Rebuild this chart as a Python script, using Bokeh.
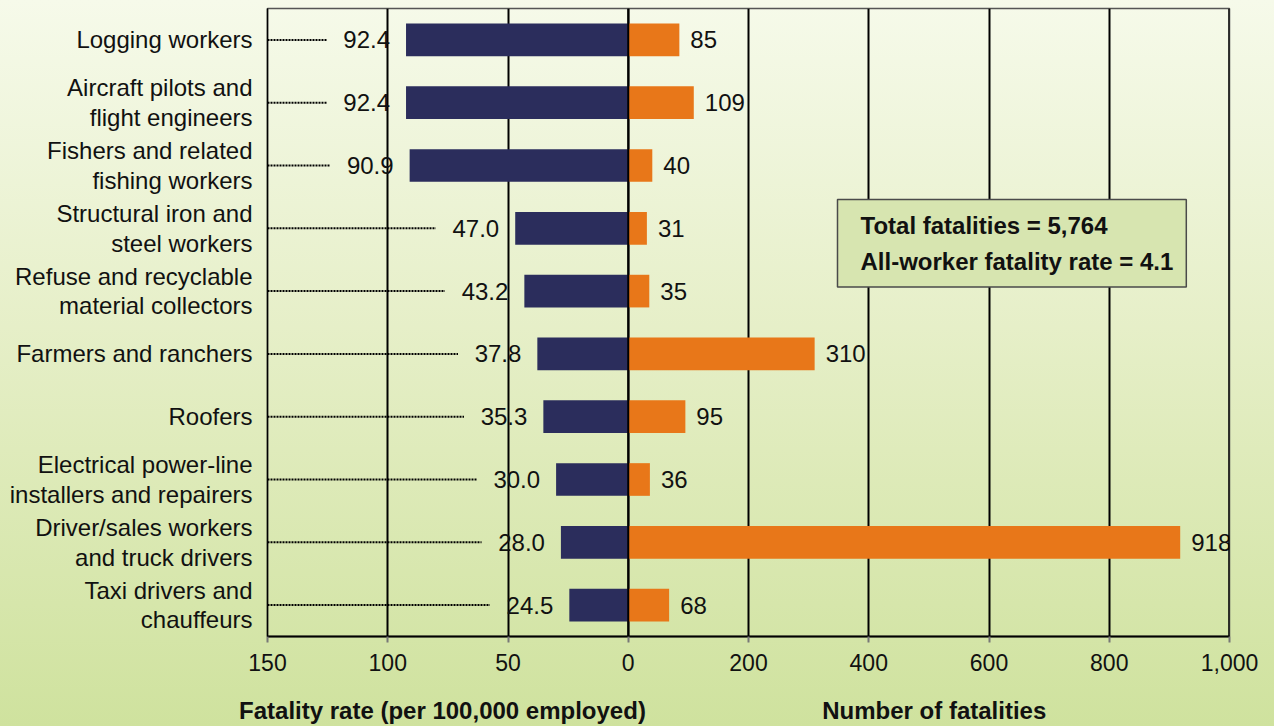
from bokeh.plotting import figure
from bokeh.layouts import column
from bokeh.models import (ColumnDataSource, FactorRange, Range1d, FixedTicker,
                          Label, Span)
from bokeh.core.properties import value
from bokeh.embed import file_html
from bokeh.resources import INLINE

categories = [
    "Logging workers",
    "Aircraft pilots and\nflight engineers",
    "Fishers and related\nfishing workers",
    "Structural iron and\nsteel workers",
    "Refuse and recyclable\nmaterial collectors",
    "Farmers and ranchers",
    "Roofers",
    "Electrical power-line\ninstallers and repairers",
    "Driver/sales workers\nand truck drivers",
    "Taxi drivers and\nchauffeurs",
]
rates = [92.4, 92.4, 90.9, 47.0, 43.2, 37.8, 35.3, 30.0, 28.0, 24.5]
fatalities = [85, 109, 40, 31, 35, 310, 95, 36, 918, 68]

count_ticks = [-600, -400, -200, 0, 200, 400, 600, 800, 1000]
count_tick_labels = ["150", "100", "50", "0", "200", "400", "600", "800", "1,000"]

title_ticks = [-309, 509]
title_labels = ["Fatality rate (per 100,000 employed)", "Number of fatalities"]
summary = "Total fatalities = 5,764\nAll-worker fatality rate = 4.1"

FONT = "Liberation Sans"
NAVY = "#2b2d5c"
ORANGE = "#e87719"
TXT = "#111111"

W, H_MAIN, H_TITLES = 1274, 684, 42
BL, BR = 267, 45

src = ColumnDataSource(dict(
    cat=categories,
    rate=rates,
    rate_txt=[f"{r:.1f}" for r in rates],
    lead_end=[r + 33 for r in rates],
    lead_start=[150] * len(rates),
    zero=[0] * len(rates),
    n=fatalities,
    n_txt=[f"{v:,}" for v in fatalities],
))

xr = Range1d(-600, 1000)
p = figure(width=W, height=H_MAIN, output_backend="svg", toolbar_location=None,
           y_range=FactorRange(factors=list(reversed(categories))),
           x_range=xr,
           min_border_left=BL, min_border_right=BR, min_border_top=8,
           min_border_bottom=48)
p.extra_x_ranges = {"rate": Range1d(150, -250)}

p.background_fill_color = None
p.border_fill_color = None
p.outline_line_color = "#555555"
p.outline_line_width = 1.5

# grid
p.ygrid.visible = False
p.xgrid.ticker = FixedTicker(ticks=[-400, -200, 0, 200, 400, 600, 800])
p.xgrid.grid_line_color = "black"
p.xgrid.grid_line_width = 2
p.add_layout(Span(location=1000, dimension="height", line_color="black", line_width=2.5))

# leaders
p.segment(x0="lead_start", x1="lead_end", y0="cat", y1="cat", source=src,
          x_range_name="rate", line_color="#000000", line_width=2, line_dash="2 1")

# bars
p.hbar(y="cat", left="zero", right="rate", height=0.52, source=src,
       x_range_name="rate", fill_color=NAVY, line_color=None)
p.hbar(y="cat", left="zero", right="n", height=0.52, source=src,
       fill_color=ORANGE, line_color=None)
p.add_layout(Span(location=0, dimension="height", line_color="black", line_width=2))

# value labels
p.text(x="rate", y="cat", text="rate_txt", source=src, x_range_name="rate",
       x_offset=-16, text_align="right", text_baseline="middle",
       text_font=value(FONT), text_font_size="24px", text_color=TXT)
p.text(x="n", y="cat", text="n_txt", source=src,
       x_offset=11, text_align="left", text_baseline="middle",
       text_font=value(FONT), text_font_size="24px", text_color=TXT)

# axes
xa = p.xaxis[0]
xa.ticker = FixedTicker(ticks=count_ticks)
xa.major_label_overrides = {t: l for t, l in zip(count_ticks, count_tick_labels)}
xa.axis_line_color = "black"
xa.axis_line_width = 2
xa.major_tick_in = 0
xa.major_tick_out = 6
xa.major_tick_line_color = "#777777"
xa.major_tick_line_width = 2
xa.minor_tick_line_color = None
xa.major_label_text_font = FONT
xa.major_label_text_font_size = "23px"
xa.major_label_text_color = TXT
xa.major_label_standoff = 11

ya = p.yaxis[0]
ya.axis_line_color = "black"
ya.axis_line_width = 1.5
ya.major_tick_line_color = None
ya.minor_tick_line_color = None
ya.major_label_text_font = FONT
ya.major_label_text_font_size = "24px"
ya.major_label_text_color = TXT
ya.major_label_text_line_height = 1.1
ya.major_label_standoff = 9

# summary box
p.add_layout(Label(x=570, y=437, x_units="screen", y_units="screen",
                   text=summary,
                   text_align="left", text_baseline="top", text_font=FONT,
                   text_font_style="bold", text_font_size="24px", text_color=TXT,
                   text_line_height=1.35,
                   background_fill_color="#d7e5b0", border_line_color="#4a4a4a",
                   border_line_width=1.5, padding=(23, 13, 12, 12)))

# axis titles strip: an axis on the same x scale whose two tick labels are the titles
p2 = figure(width=W, height=H_TITLES, output_backend="svg", toolbar_location=None,
            x_range=xr, y_range=Range1d(0, 1),
            y_axis_type=None,
            min_border_left=BL, min_border_right=BR, min_border_top=0,
            min_border_bottom=0)
p2.background_fill_color = None
p2.border_fill_color = None
p2.outline_line_color = None
p2.grid.visible = False
ta = p2.xaxis[0]
ta.ticker = FixedTicker(ticks=title_ticks)
ta.major_label_overrides = {t: l for t, l in zip(title_ticks, title_labels)}
ta.axis_line_color = None
ta.major_tick_line_color = None
ta.minor_tick_line_color = None
ta.major_tick_in = 0
ta.major_tick_out = 0
ta.major_label_standoff = 0
ta.major_label_text_font = FONT
ta.major_label_text_font_style = "bold"
ta.major_label_text_font_size = "24px"
ta.major_label_text_color = TXT

layout = column(p, p2, spacing=0)
layout.styles = {"background": "linear-gradient(to bottom, #f6faea 0%, #e6efc8 45%, #cfe29e 100%)"}

open("out.html", "w").write(file_html(layout, INLINE))
